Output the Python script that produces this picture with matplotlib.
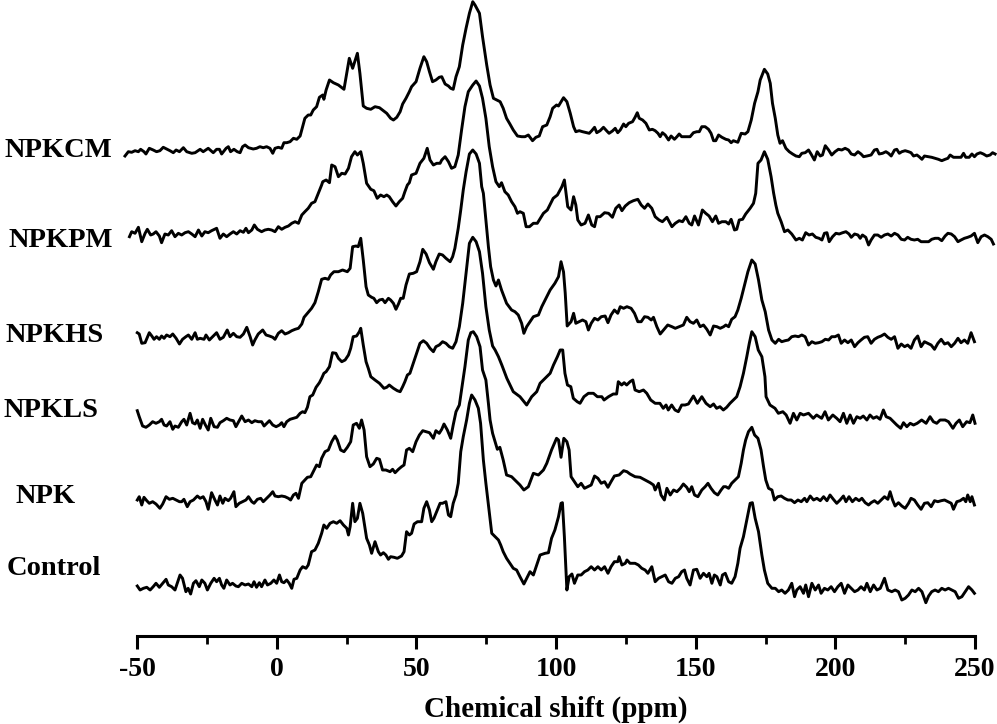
import numpy as np
import matplotlib
matplotlib.use("Agg")
import matplotlib.pyplot as plt

plt.rcParams['font.family'] = ['Liberation Serif', 'DejaVu Serif']
plt.rcParams['font.weight'] = 'bold'

# spectra: chemical shift (ppm) and intensity above each baseline
npkcm_x = [-54.3, -53.1, -51.9, -50.7, -49.5, -48.7, -47.5, -46.8, -45.6, -44.2, -43.0, -41.8, -40.6, -39.4, -38.2, -37.0, -36.0, -34.8, -33.4, -32.2, -30.4, -29.2, -27.4, -26.3, -24.5, -22.7, -21.5, -20.5, -19.7, -18.1, -17.3, -16.5, -15.3, -14.1, -13.1, -12.2, -11.3, -10.1, -8.4, -7.2, -6.0, -4.8, -3.6, -2.4, -1.4, -0.6, 0.6, 1.8, 2.6, 3.6, 4.8, 6.0, 7.2, 8.4, 9.3, 10.1, 11.3, 12.2, 13.1, 14.3, 15.3, 16.5, 16.9, 17.7, 18.9, 20.3, 22.1, 24.1, 26.0, 27.2, 28.9, 29.8, 31.0, 32.2, 33.7, 35.2, 36.8, 38.2, 39.4, 40.8, 41.8, 43.0, 44.2, 45.1, 46.3, 47.5, 48.3, 49.9, 51.3, 52.7, 53.7, 54.7, 55.8, 57.0, 58.2, 59.1, 60.3, 61.5, 62.3, 63.2, 64.2, 65.4, 66.6, 67.8, 69.0, 70.2, 71.0, 72.6, 73.7, 75.2, 76.4, 77.6, 78.8, 80.0, 81.1, 82.3, 83.5, 84.7, 86.2, 87.7, 88.9, 90.1, 91.6, 92.8, 94.0, 95.2, 96.7, 97.9, 98.8, 100.2,
           100.9, 102.7, 103.9, 105.1, 106.3, 107.1, 108.3, 109.5, 111.0, 111.9, 112.8, 113.8, 114.6, 115.8, 117.0, 118.2, 119.0, 120.2, 121.2, 122.1, 123.0, 124.2, 125.0, 126.0, 127.4, 128.3, 129.1, 129.8, 131.0, 132.2, 133.4, 134.5, 135.5, 136.5, 137.3, 138.1, 139.1, 140.3, 141.2, 142.4, 143.3, 144.1, 145.0, 146.2, 148.0, 149.2, 150.4, 151.3, 152.2, 153.4, 154.6, 155.5, 156.4, 157.2, 158.2, 159.4, 160.8, 161.8, 162.7, 163.5, 165.1, 166.3, 167.7, 168.7, 169.9, 171.1, 172.3, 173.1, 174.6, 175.8, 176.7, 177.5, 178.5, 179.4, 180.2, 181.1, 182.3, 183.5, 184.7, 185.9, 187.1, 188.0, 189.2, 190.4, 191.3, 192.5, 193.5, 194.6, 195.4, 196.4, 197.6, 198.7, 199.9, 201.1, 202.3, 203.5, 204.7, 205.7, 206.9, 208.1, 209.2, 210.1, 211.3, 212.8, 214.0, 214.9, 215.7, 216.9, 218.1, 219.0, 220.0, 221.2, 222.0, 222.9, 223.8, 225.0, 226.2, 227.1, 228.0, 229.2, 230.0, 231.0, 231.9, 233.4, 234.5, 235.7, 236.9, 238.1, 239.3, 240.3, 241.1, 242.3, 243.5, 245.0, 245.9, 246.7, 247.9, 248.9, 249.8, 250.7, 251.9, 253.0, 254.2, 255.4, 256.3, 257.2]
npkcm_y = [-4.0, 0.3, -0.3, 1.3, 0.3, 2.7, 0.3, -2.0, 3.7, 2.0, 0.3, 1.3, 4.7, 3.0, 1.3, -0.7, 2.0, 0.3, 4.3, 0.3, -1.3, -0.7, 2.7, 0.3, 3.7, -0.7, 2.7, 2.7, -2.0, 3.7, 5.3, 0.3, 2.7, 0.3, -0.7, 5.3, 7.0, 4.3, 3.0, 3.7, 5.3, 4.3, 5.3, 3.7, -1.3, 3.7, 4.7, 3.7, 9.3, 9.3, 10.3, 13.7, 12.7, 16.0, 25.3, 33.7, 37.0, 37.0, 42.0, 45.3, 54.7, 57.0, 52.7, 62.0, 72.0, 69.3, 67.0, 62.7, 93.7, 83.7, 98.7, 78.7, 46.0, 43.7, 42.7, 45.3, 44.3, 41.3, 38.7, 33.7, 32.0, 34.7, 40.3, 48.0, 53.7, 60.3, 65.3, 70.3, 83.7, 95.3, 90.3, 80.3, 70.3, 72.0, 74.7, 75.3, 68.0, 66.0, 63.7, 62.7, 75.3, 85.3, 107.0, 123.7, 138.7, 150.3, 147.0, 138.7, 115.3, 87.0, 67.0, 53.7, 52.0, 50.3, 43.7, 33.7, 28.0, 22.0, 16.0, 15.3, 15.3, 17.0, 11.3, 14.7, 16.0, 25.3, 27.0, 35.3, 43.7, 47.0,
           46.0, 54.3, 50.3, 38.7, 25.3, 20.3, 21.3, 20.3, 19.3, 18.7, 21.3, 24.7, 19.3, 21.3, 24.7, 21.0, 18.7, 21.0, 23.7, 19.3, 22.0, 28.0, 25.3, 28.7, 30.3, 34.7, 39.3, 33.7, 32.0, 28.7, 22.0, 22.7, 21.3, 18.7, 15.3, 19.3, 17.0, 12.0, 16.0, 12.7, 15.3, 18.0, 15.3, 15.3, 15.3, 19.3, 20.3, 20.3, 25.3, 25.3, 22.7, 18.7, 11.3, 11.3, 17.0, 14.7, 12.7, 12.0, 9.3, 11.3, 9.7, 18.7, 18.0, 20.3, 32.0, 48.7, 60.3, 72.0, 82.7, 78.0, 68.7, 48.7, 33.7, 17.0, 8.7, 11.3, 3.7, 0.3, -2.0, -4.0, -4.7, -1.3, -0.7, 2.0, -2.0, -8.0, 0.3, -4.0, -3.0, 6.3, 2.0, -3.0, 0.3, 2.7, 2.0, 3.7, 2.0, -2.0, -3.0, 0.3, -2.0, -4.7, -4.0, -3.0, 2.0, 2.7, -2.0, -1.3, 0.3, -1.3, -4.0, 2.0, 2.7, -1.3, 0.3, 1.3, 0.3, -0.7, -4.0, -3.0, -4.7, -7.3, -4.0, -4.7, -5.3, -6.3, -7.3, -8.7, -7.3, -6.3, -3.0, -5.3, -5.3, -5.3, -1.3, -5.3, -5.3, -2.0, -4.7, -2.0, -0.7, -2.0, -4.0, -3.0, -0.7, -2.0]

npkpm_x = [-52.7, -51.9, -50.7, -49.5, -48.3, -47.1, -46.3, -45.1, -44.2, -43.2, -42.0, -41.2, -40.0, -38.8, -37.6, -36.4, -35.2, -34.0, -32.8, -31.6, -30.4, -29.2, -28.0, -26.8, -25.7, -24.5, -23.3, -21.5, -20.3, -19.1, -17.9, -16.7, -15.5, -14.3, -13.1, -11.9, -11.0, -10.1, -8.9, -8.0, -6.9, -5.4, -4.2, -3.0, -1.8, -0.6, 0.6, 1.8, 3.0, 4.2, 5.4, 6.6, 7.8, 9.0, 10.1, 11.3, 12.5, 13.7, 14.9, 16.1, 16.5, 17.7, 18.9, 19.7, 20.9, 22.1, 23.3, 24.5, 25.7, 26.8, 28.0, 28.9, 30.1, 31.0, 32.2, 33.7, 34.8, 36.0, 37.2, 38.4, 39.4, 40.3, 41.5, 42.7, 43.9, 45.1, 45.9, 46.8, 47.5, 48.3, 49.9, 51.3, 52.7, 53.9, 54.9, 56.1, 57.3, 58.5, 59.1, 60.3, 61.5, 62.6, 63.8, 65.0, 66.2, 67.4, 68.6, 70.2, 71.4, 72.6, 73.7, 74.9, 76.1, 77.3, 78.5, 79.7, 80.5, 81.7, 82.9, 84.1, 85.3, 86.2, 87.1, 88.3, 89.3, 90.5, 91.9, 93.3, 94.3, 95.5, 96.9, 98.1, 99.0, 100.5,
           102.1, 103.0, 104.2, 105.4, 106.3, 107.1, 107.8, 109.0, 110.4, 111.6, 112.8, 113.8, 114.6, 115.8, 117.4, 118.8, 120.2, 121.4, 122.6, 123.6, 124.8, 126.2, 127.7, 129.3, 130.5, 131.7, 132.9, 134.3, 135.5, 136.9, 138.1, 139.7, 141.5, 142.7, 144.1, 145.3, 146.5, 147.7, 148.6, 149.6, 151.0, 152.4, 153.6, 154.8, 156.0, 157.2, 158.2, 159.4, 160.8, 161.8, 162.7, 163.9, 164.7, 165.6, 166.8, 167.9, 169.5, 170.7, 171.5, 172.3, 173.4, 174.6, 175.8, 177.0, 177.9, 178.7, 179.4, 180.6, 181.8, 183.0, 184.4, 185.9, 187.1, 188.2, 189.4, 190.6, 191.8, 193.0, 194.2, 195.2, 196.1, 197.0, 197.8, 199.0, 200.2, 201.4, 202.6, 203.8, 204.9, 205.7, 206.9, 208.1, 208.9, 209.7, 210.9, 211.9, 212.8, 214.0, 215.2, 216.4, 217.6, 218.8, 220.0, 221.2, 222.4, 223.6, 224.8, 225.9, 227.1, 228.3, 229.5, 230.7, 232.2, 233.4, 234.5, 235.7, 236.9, 238.1, 239.3, 240.3, 241.5, 242.7, 243.9, 245.0, 246.2, 247.4, 248.6, 249.8, 251.0, 252.2, 253.4, 254.6, 255.8, 256.6]
npkpm_y = [-3.7, 1.3, -0.3, 5.7, -8.7, -0.3, 3.7, -2.0, -1.0, 1.3, -3.0, -9.7, -1.0, -2.0, 2.3, -3.7, -0.3, -2.0, 0.3, 1.3, -1.0, -3.7, 3.0, -3.0, 1.3, 0.3, 2.3, 4.7, -5.3, -1.0, -3.7, -1.0, 1.3, -1.0, 2.3, 0.7, 4.7, 0.3, 3.0, 8.0, 3.7, 1.3, 3.0, 3.7, 3.0, 1.3, 6.3, 3.7, 5.7, 7.0, 9.7, 11.3, 9.7, 18.0, 21.3, 24.7, 29.7, 31.3, 39.7, 48.0, 51.3, 53.0, 50.3, 68.0, 66.3, 56.3, 59.7, 59.0, 64.7, 76.3, 81.3, 78.0, 81.3, 69.7, 49.7, 43.7, 42.3, 34.7, 38.0, 36.3, 38.0, 36.3, 31.3, 27.0, 31.3, 34.7, 41.3, 48.0, 50.3, 58.0, 59.7, 69.7, 74.7, 84.7, 73.0, 68.0, 69.7, 69.7, 73.0, 76.3, 71.3, 64.7, 66.3, 78.0, 103.0, 126.3, 141.3, 148.0, 152.0, 147.0, 134.7, 114.7, 86.3, 66.3, 51.3, 46.3, 50.3, 41.3, 38.0, 31.3, 26.3, 19.7, 21.3, 19.7, 6.3, 6.3, 9.7, 9.7, 14.3, 19.7, 23.0, 29.7, 34.7, 38.0,
           46.3, 53.0, 26.3, 23.0, 36.3, 28.0, 13.0, 8.0, 9.7, 18.0, 8.0, 6.3, 16.3, 16.3, 20.3, 19.7, 15.7, 24.7, 28.0, 22.3, 27.0, 30.3, 32.3, 33.7, 28.0, 24.7, 29.0, 24.7, 16.3, 13.0, 11.3, 15.7, 6.3, 9.7, 12.3, 11.3, 16.3, 9.7, 8.0, 17.0, 8.0, 23.0, 19.7, 17.0, 11.3, 17.0, 9.7, 11.3, 11.3, 9.0, 13.7, 3.0, 3.7, 13.0, 13.7, 19.0, 24.7, 29.7, 39.7, 69.7, 73.0, 81.3, 73.7, 56.3, 40.0, 28.0, 19.7, 11.3, 1.3, 3.0, -1.0, -7.0, -5.3, -7.0, 0.3, -2.0, -1.0, -4.3, -5.3, -7.0, -0.3, 0.3, -8.7, -3.7, -0.3, -1.0, 0.3, 1.3, -1.0, -4.3, -1.0, -2.0, -5.3, -2.0, -4.3, -12.0, -7.0, -2.0, -2.0, -4.3, -2.0, -1.0, -3.0, -0.3, -2.0, -6.3, -7.0, -4.3, -6.3, -7.0, -6.3, -8.7, -8.7, -8.7, -6.3, -5.3, -5.3, -7.7, -3.0, -0.3, -1.0, -3.7, -8.7, -7.0, -5.3, -4.3, -3.0, -0.3, -9.7, -3.7, -2.0, -3.7, -6.3, -11.0]

npkhs_x = [-49.9, -49.2, -48.3, -47.1, -45.6, -44.7, -43.9, -43.0, -42.0, -41.2, -40.3, -39.4, -38.2, -37.2, -36.0, -34.8, -33.7, -32.5, -31.6, -30.4, -29.2, -28.4, -27.4, -26.0, -25.3, -24.1, -22.9, -21.5, -20.3, -19.1, -17.7, -16.7, -15.5, -14.3, -13.1, -11.9, -10.7, -9.5, -8.6, -7.8, -6.6, -5.0, -3.8, -2.6, -1.4, -0.6, 0.6, 1.8, 3.0, 4.2, 5.4, 6.6, 7.8, 9.0, 9.8, 11.0, 12.5, 13.7, 14.9, 16.1, 17.3, 18.5, 19.3, 20.5, 22.1, 23.6, 25.3, 26.3, 27.2, 28.4, 29.2, 30.1, 31.0, 32.0, 32.8, 34.0, 34.8, 35.8, 36.8, 37.9, 38.8, 40.0, 40.8, 41.8, 42.7, 43.6, 44.4, 45.3, 46.3, 47.5, 48.9, 50.1, 51.3, 52.3, 53.5, 54.7, 56.1, 57.0, 58.2, 59.4, 60.6, 62.1, 63.0, 63.8, 65.0, 65.9, 66.8, 67.8, 69.0, 70.2, 71.4, 72.6, 73.4, 74.0, 75.0, 75.8, 76.6, 77.6, 78.5, 79.4, 80.5, 82.3, 84.1, 85.3, 86.5, 87.7, 88.5, 89.5, 90.7, 91.9, 93.7, 94.9, 96.1, 97.9, 99.6,
           100.9, 101.8, 102.7, 103.3, 104.0, 105.4, 106.3, 107.1, 108.3, 109.5, 110.7, 111.6, 112.6, 113.8, 115.0, 116.2, 117.6, 118.6, 119.7, 120.9, 122.1, 123.0, 124.2, 125.4, 126.9, 128.1, 129.3, 130.5, 131.7, 132.9, 134.1, 134.9, 136.1, 137.3, 138.5, 140.0, 141.5, 142.7, 144.1, 145.6, 146.8, 148.0, 149.2, 150.4, 151.6, 152.8, 154.0, 155.2, 156.4, 157.6, 158.8, 160.0, 160.8, 161.8, 162.9, 164.1, 165.1, 166.3, 167.5, 168.7, 170.1, 171.3, 172.5, 173.7, 174.9, 176.1, 177.3, 178.5, 179.7, 180.8, 182.0, 183.2, 184.4, 185.6, 186.8, 188.0, 189.2, 190.4, 191.6, 192.8, 194.0, 195.2, 196.4, 197.6, 198.7, 199.9, 201.1, 202.1, 203.3, 204.5, 205.7, 206.9, 208.1, 209.2, 210.4, 211.6, 212.8, 214.0, 215.2, 216.4, 217.6, 218.8, 220.0, 221.2, 222.4, 223.6, 224.8, 225.9, 227.1, 228.3, 229.5, 230.7, 231.9, 233.1, 234.3, 235.5, 236.7, 237.9, 239.1, 240.3, 241.5, 242.7, 243.9, 245.0, 246.2, 247.4, 248.6, 249.8]
npkhs_y = [5.3, 4.0, -5.3, -4.7, 5.3, 2.0, -1.3, 1.3, -1.3, 2.0, -0.3, 3.0, 1.3, 4.0, -0.3, -6.0, -1.3, 1.3, 3.0, -1.3, 5.3, -1.3, -0.3, -1.3, 3.0, -2.0, 1.3, 5.3, -1.3, 0.7, 8.0, 1.3, 4.7, 1.3, 0.7, 4.0, 10.7, 1.3, -7.0, -2.0, 4.0, 8.0, 3.0, 2.0, 0.7, -1.3, 4.7, 7.3, 4.0, 5.3, 7.3, 8.7, 9.7, 14.0, 20.7, 24.7, 29.7, 35.3, 46.3, 58.7, 59.7, 58.7, 63.0, 66.3, 66.3, 68.0, 66.3, 69.7, 91.3, 92.0, 91.3, 99.7, 78.0, 51.3, 43.0, 40.7, 39.7, 35.3, 38.0, 38.7, 35.3, 39.7, 38.0, 34.7, 28.7, 34.0, 39.7, 39.7, 53.0, 64.0, 64.7, 66.3, 76.3, 88.7, 84.0, 75.3, 68.7, 76.3, 84.0, 83.0, 79.7, 76.3, 81.3, 89.7, 109.7, 128.0, 148.0, 166.0, 184.0, 188.0, 184.0, 174.7, 151.3, 144.7, 114.7, 91.3, 71.3, 58.0, 52.0, 58.0, 48.0, 34.7, 28.0, 26.3, 23.0, 14.7, 4.7, 11.3, 16.3, 21.3, 23.0, 31.3, 38.0, 48.0, 54.7,
           61.3, 76.3, 66.0, 45.0, 12.0, 16.3, 24.7, 14.7, 16.3, 18.0, 16.3, 8.0, 14.7, 19.7, 18.0, 21.3, 22.0, 15.3, 23.0, 28.0, 24.7, 31.3, 29.7, 31.3, 29.7, 24.7, 16.3, 16.3, 21.3, 20.7, 18.0, 20.7, 11.3, 4.0, 8.0, 13.0, 11.3, 9.7, 11.3, 13.0, 20.7, 16.3, 14.7, 18.0, 11.3, 13.0, 8.7, 3.0, 12.0, 11.3, 9.7, 11.3, 13.0, 11.3, 18.7, 21.3, 28.0, 39.7, 53.0, 66.3, 78.0, 74.0, 58.0, 38.0, 26.3, 8.0, -2.0, -5.3, -1.3, -3.7, -2.7, -2.0, 1.3, 2.0, 1.3, 3.0, 1.3, -7.0, -3.7, -5.3, -4.7, -3.7, -1.3, -2.0, 1.3, 1.3, 3.0, -5.3, -2.0, -4.7, -2.0, -8.7, -4.7, -2.0, 0.7, 1.3, -5.3, -1.3, 0.7, 2.0, 4.0, 0.7, -1.3, 1.3, -10.3, -6.0, -8.7, -7.0, -10.3, -2.0, 2.0, -8.7, -3.7, -5.3, -7.0, -11.3, -5.3, -1.3, -6.0, -4.7, -8.7, -5.3, -0.3, -4.7, -2.0, -5.3, 5.3, -3.7]

npkls_x = [-49.9, -49.2, -48.0, -46.8, -45.6, -44.4, -43.2, -42.0, -41.2, -40.3, -39.4, -38.2, -37.2, -36.4, -35.2, -34.0, -33.2, -32.2, -31.0, -30.1, -29.2, -28.4, -27.4, -26.5, -25.5, -24.5, -23.6, -22.4, -21.2, -20.3, -19.1, -17.9, -16.7, -15.5, -14.6, -13.4, -12.5, -11.3, -10.1, -8.9, -7.8, -6.6, -5.4, -4.5, -3.3, -2.6, -1.4, -0.2, 1.0, 1.8, 2.6, 3.6, 4.8, 6.0, 7.2, 8.4, 9.3, 10.1, 11.0, 11.9, 12.9, 14.1, 15.3, 16.1, 16.9, 17.7, 18.9, 20.0, 21.2, 22.1, 23.3, 24.5, 25.7, 26.5, 27.4, 28.6, 29.6, 30.1, 31.0, 32.0, 32.8, 33.7, 35.2, 36.8, 38.4, 39.4, 40.3, 41.8, 43.2, 44.2, 45.1, 45.9, 46.8, 47.7, 48.9, 50.1, 51.3, 52.5, 53.7, 54.9, 56.1, 57.0, 58.2, 59.4, 60.6, 61.8, 63.0, 64.2, 65.4, 66.6, 67.8, 69.0, 70.2, 71.4, 72.6, 73.7, 74.9, 76.1, 77.3, 78.2, 79.4, 80.6, 82.4, 84.7, 87.1, 89.5, 91.3, 93.1, 94.3, 96.1, 97.9, 99.1, 100.5, 101.5, 102.4, 103.2, 104.1, 105.3, 106.2, 107.6, 108.6, 110.0, 111.6, 113.4, 114.8, 116.4, 117.2, 118.8, 120.5, 121.7, 122.3, 123.5, 124.4, 125.3, 126.5, 127.5, 128.3, 129.8, 131.3, 132.5, 133.9, 135.5, 137.2, 138.4, 139.4, 140.2, 141.4, 142.6, 143.8, 145.0, 146.2, 147.4, 149.2, 150.6, 152.2, 153.7, 155.2, 156.4, 157.5, 158.7, 159.9, 161.1, 162.3, 163.5, 164.7, 165.9, 167.1, 168.3, 169.2, 170.1, 171.3, 172.4, 173.7, 174.8, 175.2, 176.6, 178.4, 179.6, 181.2, 182.4, 183.8, 185.0, 186.2, 187.4, 188.6, 190.4, 192.1, 193.3, 195.1, 196.3, 197.5, 199.1, 200.5, 201.7, 202.9, 204.1, 205.3, 206.5, 207.7, 208.9, 210.0, 211.3, 212.4, 213.6, 214.8, 216.0, 217.2, 218.2, 219.6, 220.8, 222.0, 223.4, 224.4, 225.6, 226.8, 228.0, 229.3, 230.9, 232.5, 233.9, 235.1, 236.3, 237.5, 239.3, 240.5, 242.1, 243.2, 244.4, 245.6, 247.0, 248.2, 249.2, 250.0]
npkls_y = [11.3, 5.3, -4.0, -5.3, -3.0, 0.3, -1.3, 0.3, 2.7, -3.0, -4.0, 0.3, -7.3, -4.0, -5.3, 0.3, 2.7, -3.0, 8.7, -0.7, -2.0, 2.0, -6.3, 2.7, -3.0, -8.0, 3.7, -4.7, -5.3, -0.7, 1.3, 3.7, 2.0, 1.3, -4.7, 1.3, 6.0, 0.3, 2.0, -0.7, 1.3, 0.3, 0.3, -4.0, -0.7, 1.3, -3.0, -4.7, -3.0, -0.7, -4.7, 0.3, 2.7, 3.7, 4.7, 8.7, 10.3, 9.3, 14.7, 25.3, 27.0, 34.7, 39.3, 43.7, 48.7, 50.3, 55.3, 69.3, 68.7, 63.7, 60.3, 62.0, 67.0, 73.7, 85.3, 86.0, 90.3, 93.7, 77.0, 60.3, 53.7, 45.3, 42.0, 38.7, 33.7, 34.7, 37.0, 33.7, 31.3, 30.3, 35.3, 40.3, 47.0, 48.7, 58.7, 68.7, 78.7, 81.3, 78.7, 73.7, 70.3, 75.3, 77.0, 80.3, 78.7, 75.3, 73.7, 80.3, 95.3, 118.7, 148.7, 178.7, 184.7, 180.3, 170.3, 148.7, 115.3, 92.0, 76.0, 72.0, 65.3, 57.0, 43.7, 30.3, 25.3, 17.0, 25.3, 30.3, 38.7, 43.7, 48.7, 57.0, 65.3, 72.0, 72.0, 48.7, 37.0, 35.3, 23.7, 20.3, 18.7, 25.3, 28.7, 28.7, 25.3, 25.3, 22.0, 25.3, 28.0, 28.0, 40.3, 37.0, 39.3, 37.0, 40.3, 42.0, 32.0, 30.3, 32.0, 28.7, 22.0, 18.7, 18.7, 13.7, 17.0, 12.0, 17.0, 12.0, 10.3, 17.0, 17.0, 18.0, 26.0, 18.7, 25.3, 18.7, 15.3, 18.0, 13.7, 15.3, 12.0, 14.7, 18.7, 22.0, 25.3, 35.3, 48.7, 65.3, 78.7, 90.3, 85.3, 72.0, 65.3, 45.3, 25.3, 17.0, 13.7, 8.7, 10.3, 7.0, -1.3, 8.7, 2.0, 8.7, 7.0, 8.7, 3.7, 7.0, 3.7, 10.3, 2.0, 7.0, 3.7, 0.3, 8.7, -1.3, 7.0, -1.3, 5.3, 3.7, 6.0, 2.0, 7.0, 3.7, 5.3, 2.7, 12.0, 5.3, 3.7, 0.3, -3.0, -6.3, -0.7, -4.7, -1.3, -3.0, -1.3, 2.0, -1.3, 5.3, 0.3, -1.3, 2.0, 2.0, 0.3, -6.3, -1.3, 2.0, -4.7, 0.3, -0.7, 7.0, -1.3]

npk_x = [-49.9, -49.2, -48.3, -47.5, -46.5, -45.6, -44.4, -43.2, -41.8, -40.8, -39.6, -38.4, -37.2, -36.0, -34.8, -34.0, -33.2, -32.0, -31.0, -29.8, -28.4, -27.4, -26.3, -25.3, -24.5, -23.3, -22.1, -21.2, -20.3, -19.3, -18.5, -17.3, -16.5, -15.3, -14.6, -13.4, -12.2, -11.0, -10.1, -8.9, -8.1, -6.9, -5.7, -4.8, -3.6, -2.4, -1.4, -0.6, 0.6, 1.8, 3.0, 4.2, 5.0, 6.0, 6.9, 7.8, 9.0, 10.1, 11.0, 12.2, 13.1, 14.3, 15.3, 16.1, 17.3, 18.5, 19.7, 20.9, 21.7, 22.9, 24.1, 25.3, 26.5, 27.4, 28.6, 29.6, 30.4, 31.3, 32.2, 33.4, 34.6, 35.8, 36.8, 37.9, 39.1, 40.6, 41.5, 42.4, 43.6, 44.7, 45.6, 46.5, 47.5, 48.7, 49.9, 51.1, 52.3, 53.5, 54.7, 56.1, 57.0, 58.2, 59.1, 59.9, 61.1, 62.3, 63.2, 64.2, 65.4, 67.4, 68.6, 69.5, 70.4, 71.6, 72.8, 73.7, 74.9, 75.8, 76.4, 77.3, 78.2, 79.0, 79.9, 81.1, 82.3, 84.1, 85.9, 87.1, 88.5, 90.1, 91.9, 93.7, 95.5, 96.7, 98.4, 100.2,
         100.9, 101.8, 102.8, 103.9, 104.7, 105.4, 106.6, 107.8, 109.0, 110.2, 111.4, 112.6, 113.8, 115.0, 116.2, 117.4, 118.6, 119.7, 120.9, 122.6, 124.2, 125.4, 126.5, 128.3, 130.1, 131.9, 133.7, 134.9, 135.5, 136.7, 137.6, 138.8, 139.7, 140.9, 142.1, 143.3, 144.5, 145.6, 146.8, 147.7, 148.6, 149.6, 150.8, 152.2, 153.4, 154.4, 155.5, 156.7, 157.9, 159.1, 160.0, 160.8, 161.8, 162.9, 164.1, 165.3, 166.3, 167.1, 167.9, 168.9, 170.1, 171.1, 172.3, 173.4, 174.3, 175.1, 176.1, 177.3, 178.2, 179.4, 180.6, 181.8, 183.0, 184.2, 185.4, 186.6, 187.8, 189.0, 189.8, 191.0, 192.2, 193.4, 194.6, 195.8, 197.0, 198.1, 199.3, 200.5, 201.7, 202.9, 203.8, 204.9, 206.1, 207.3, 208.5, 209.5, 210.7, 211.9, 212.8, 214.0, 215.2, 216.4, 217.6, 218.8, 219.6, 220.5, 221.4, 222.6, 223.8, 225.0, 226.2, 227.1, 228.3, 229.5, 230.7, 231.9, 233.1, 234.3, 235.5, 236.7, 237.9, 239.1, 240.3, 241.5, 242.3, 243.5, 244.7, 245.9, 246.7, 247.4, 248.3, 248.9, 249.8]
npk_y = [2.0, 5.3, -3.0, 4.7, 1.3, -1.3, 0.3, -2.0, -6.3, -2.0, 5.3, 2.7, 3.7, 2.0, 0.3, 0.3, 2.7, -4.7, 0.3, 2.0, 6.0, 3.7, 5.3, 0.3, -7.3, 9.3, 2.0, -3.0, 6.0, -1.3, 3.7, 1.3, 3.7, 10.3, -4.7, -1.3, 0.3, 2.0, 5.3, 0.3, -1.3, 2.7, 3.7, 0.3, 3.7, 7.0, 10.3, 6.0, 5.3, 6.0, 5.3, 3.7, 2.0, 7.0, 8.7, 3.7, 18.7, 22.0, 24.7, 25.3, 30.3, 37.0, 35.3, 43.7, 50.3, 52.0, 60.3, 66.0, 62.0, 52.0, 50.3, 54.7, 60.3, 77.0, 78.7, 73.7, 82.0, 72.0, 45.3, 35.3, 38.0, 43.7, 42.7, 32.0, 32.0, 30.3, 32.7, 29.3, 32.7, 35.3, 37.0, 52.0, 53.7, 50.3, 60.3, 67.0, 71.3, 70.3, 69.3, 63.7, 71.3, 68.7, 72.7, 78.0, 72.0, 63.7, 77.0, 90.3, 97.0, 135.3, 162.0, 169.3, 170.3, 165.3, 155.3, 132.0, 122.0, 98.7, 82.0, 68.7, 60.3, 52.7, 54.7, 42.0, 27.0, 25.3, 20.3, 17.0, 12.0, 15.3, 28.7, 27.0, 32.0, 38.7, 52.0, 63.7,
         62.0, 44.7, 63.7, 60.3, 52.0, 25.3, 20.3, 15.3, 18.7, 13.7, 15.3, 17.0, 26.0, 23.7, 18.7, 20.3, 14.7, 20.3, 26.0, 27.0, 31.3, 30.3, 28.0, 25.3, 24.7, 22.0, 19.3, 17.0, 12.0, 18.7, 7.0, 2.0, 13.7, 7.0, 12.0, 10.3, 13.7, 18.0, 14.7, 10.3, 15.3, 7.0, 5.3, 12.0, 15.3, 18.7, 13.7, 9.3, 7.0, 12.0, 15.3, 15.3, 13.7, 18.7, 22.0, 25.3, 38.7, 52.0, 62.0, 70.3, 74.7, 67.0, 63.7, 52.0, 35.3, 22.0, 13.7, 12.0, 2.0, 5.3, 6.0, 3.7, 2.0, 2.0, -0.7, 2.0, 0.3, 3.7, 0.3, 6.0, 2.0, 3.7, 1.3, 5.3, 1.3, 7.0, 2.7, -1.3, 2.0, 6.0, 0.3, 5.3, 0.3, 3.7, 1.3, 3.7, -0.7, -3.0, -0.7, 1.3, -1.3, 2.0, 5.3, 2.7, 10.3, 2.0, -4.0, -0.7, -4.0, -6.3, -1.3, 3.7, 2.0, -3.0, -7.3, -1.3, -0.7, -4.7, 1.3, 0.3, 1.3, 2.0, 0.3, -1.3, -7.3, 0.3, 1.3, 3.7, 0.3, 7.0, 0.3, 5.3, -3.0]

control_x = [-49.9, -48.9, -47.7, -46.5, -45.3, -44.2, -43.2, -42.0, -40.8, -39.6, -38.8, -37.6, -36.4, -35.6, -34.6, -33.7, -32.5, -31.7, -30.8, -29.8, -28.9, -27.7, -26.8, -25.7, -24.8, -23.6, -22.4, -21.5, -20.5, -19.7, -18.9, -17.9, -16.7, -15.8, -14.6, -13.7, -12.5, -11.3, -10.1, -8.9, -8.1, -7.2, -6.2, -5.4, -4.2, -3.3, -2.1, -1.0, 0.0, 1.0, 1.8, 2.6, 3.6, 4.5, 5.4, 6.2, 7.2, 8.4, 9.3, 10.5, 11.3, 12.5, 13.7, 14.9, 16.1, 16.9, 17.9, 19.1, 20.3, 21.5, 22.7, 23.9, 25.1, 25.7, 26.3, 27.2, 28.0, 28.9, 29.8, 30.8, 32.2, 33.2, 34.0, 35.2, 36.4, 37.2, 38.2, 39.1, 40.0, 40.8, 42.0, 43.2, 44.7, 45.6, 46.5, 47.5, 48.3, 49.2, 50.4, 51.9, 52.7, 53.7, 54.7, 55.5, 56.3, 57.5, 58.5, 59.4, 60.6, 61.5, 62.3, 63.2, 64.2, 65.0, 65.9, 66.8, 68.0, 69.0, 69.8, 71.0, 72.2, 73.0, 74.0, 74.9, 75.8, 77.0, 78.2, 79.4, 80.2, 81.1, 82.3, 83.5, 84.7, 85.9, 87.1, 88.5, 89.5, 90.7, 91.9, 93.1, 94.3, 96.1, 97.3, 98.4, 99.6,
             100.9, 101.8, 102.3, 103.0, 103.9, 104.7, 105.7, 106.6, 107.8, 109.0, 110.2, 111.4, 112.6, 113.8, 115.0, 116.2, 117.4, 118.6, 119.7, 120.9, 122.1, 122.6, 123.6, 124.8, 125.4, 126.5, 128.3, 129.5, 130.7, 131.9, 132.9, 134.3, 135.5, 136.7, 137.9, 139.1, 140.3, 141.5, 142.7, 143.9, 145.0, 146.0, 146.8, 148.0, 149.2, 150.4, 151.6, 152.8, 154.0, 154.8, 155.8, 156.7, 157.6, 158.8, 159.6, 160.6, 161.8, 162.9, 164.1, 165.1, 165.9, 167.1, 168.3, 169.5, 170.3, 171.3, 172.5, 173.7, 174.6, 175.8, 177.3, 178.5, 179.7, 180.8, 182.0, 183.2, 184.4, 185.4, 186.2, 187.4, 188.6, 189.4, 190.4, 191.6, 192.8, 194.0, 194.9, 196.1, 197.3, 198.5, 199.7, 200.9, 202.1, 203.3, 204.5, 205.7, 206.9, 208.1, 209.2, 210.4, 211.3, 212.5, 213.7, 214.9, 216.1, 217.6, 218.8, 220.2, 221.4, 222.6, 223.8, 225.0, 226.2, 227.4, 228.6, 229.8, 231.0, 232.4, 233.4, 234.5, 235.7, 236.9, 238.1, 239.3, 240.5, 241.7, 242.9, 244.1, 245.3, 246.5, 247.7, 248.9, 249.8]
control_y = [1.0, -3.0, -1.3, -0.3, -3.0, 0.3, 3.7, -0.3, 3.7, 7.7, 2.0, 0.3, -3.0, 3.7, 12.0, 8.7, -4.7, -1.3, -7.0, 3.7, 6.3, 0.3, 7.0, 3.7, -3.0, 3.7, 8.7, 5.3, 8.7, 2.0, -1.3, 7.0, 2.0, 3.7, 1.0, 0.3, 3.7, 2.0, 3.0, 0.3, 5.3, -0.3, 4.3, 0.3, 7.0, 2.0, 3.7, 7.0, 3.7, 12.0, 5.3, 4.3, 7.0, 3.7, -1.3, 7.7, 8.7, 17.0, 20.3, 18.7, 22.0, 35.3, 37.0, 43.7, 53.7, 62.0, 58.7, 63.7, 65.3, 63.7, 66.3, 62.0, 58.7, 52.0, 60.3, 83.7, 65.3, 68.7, 83.7, 73.7, 48.7, 42.0, 33.7, 45.3, 35.3, 32.0, 34.3, 32.0, 27.7, 30.3, 29.7, 28.7, 31.0, 35.3, 55.3, 52.0, 53.7, 63.0, 65.3, 65.3, 78.7, 85.3, 77.0, 65.3, 68.7, 77.0, 83.7, 83.7, 85.3, 72.0, 70.3, 83.7, 92.0, 103.7, 135.3, 150.3, 167.0, 183.7, 192.0, 187.0, 178.7, 163.7, 127.0, 103.7, 82.0, 53.7, 50.3, 47.0, 42.0, 35.3, 28.7, 23.7, 18.7, 17.0, 10.3, 3.0, 8.7, 15.3, 12.0, 22.0, 32.0, 33.7, 34.3, 48.7, 57.0,
             70.3, 83.7, 84.3, 50.3, -3.0, 10.3, 13.0, 3.7, 12.0, 12.0, 15.3, 17.0, 20.3, 17.0, 20.3, 17.0, 20.3, 13.7, 20.3, 25.3, 25.3, 30.3, 22.0, 23.7, 27.0, 23.7, 23.7, 22.0, 18.7, 17.0, 13.7, 20.3, 5.3, 8.7, 10.3, 12.0, 5.3, 3.7, 8.7, 10.3, 15.3, 17.0, 8.7, 2.0, 17.0, 17.7, 8.7, 13.7, 10.3, 13.7, 3.7, 12.0, 10.3, 2.0, 12.0, 13.7, 5.3, 3.7, 10.3, 23.7, 38.7, 50.3, 67.0, 83.7, 84.3, 68.7, 55.3, 32.0, 17.0, 3.7, -1.3, -1.3, -4.7, -3.0, -6.3, -3.0, 3.7, -9.7, -3.0, 0.3, -6.3, 2.0, -9.7, 3.7, -3.0, 2.0, -6.3, -1.3, -3.0, 0.3, -4.7, 0.3, 3.7, -6.3, 2.0, -1.3, -4.7, -3.0, 0.3, -3.0, 3.7, -4.7, 2.0, -3.0, -1.3, 8.7, -3.0, -4.7, -3.0, -4.7, -13.0, -11.3, -8.0, -3.0, -4.7, -1.3, -4.7, -15.7, -9.0, -4.7, -3.0, -4.7, -1.3, -3.0, -1.3, -3.0, -4.7, -11.3, -9.7, -4.7, 0.3, -3.0, -6.3]

names = ['NPKCM', 'NPKPM', 'NPKHS', 'NPKLS', 'NPK', 'Control']
shifts = [npkcm_x, npkpm_x, npkhs_x, npkls_x, npk_x, control_x]
intens = [npkcm_y, npkpm_y, npkhs_y, npkls_y, npk_y, control_y]
tick_values = [-50, 0, 50, 100, 150, 200, 250]
minor_values = [-25, 25, 75, 125, 175, 225]

# layout: vertical stacking offsets and label placement (pixels)
offsets = [484, 403, 298, 214, 134, 49]
label_pos = [(4, 157), (8, 247), (5, 342), (3, 417), (15, 503), (7, 575)]

W, H = 997, 724
fig = plt.figure(figsize=(W / 100, H / 100), dpi=100)
ax = fig.add_axes([137 / W, 88 / H, (975 - 137) / W, 636 / H])
ax.set_xlim(-50, 250)
ax.set_ylim(0, 636)

for xs, ys, off in zip(shifts, intens, offsets):
    ax.plot(xs, np.array(ys) + off, color='black', lw=2.1, clip_on=False,
            solid_joinstyle='round')

for name, (px, py) in zip(names, label_pos):
    fig.text(px / W, 1 - py / H, name, fontsize=20.5, fontweight='bold',
             ha='left', va='baseline')

for s in ['left', 'right', 'top']:
    ax.spines[s].set_visible(False)
ax.spines['bottom'].set_linewidth(2.2)
ax.set_yticks([])
ax.set_xticks(tick_values)
ax.set_xticklabels([str(v) for v in tick_values], fontweight='bold')
ax.set_xticks(minor_values, minor=True)
ax.tick_params(axis='x', which='major', length=9.5, width=2.2, pad=5.5,
               labelsize=20)
ax.tick_params(axis='x', which='minor', length=5.5, width=2.0)

ax.set_xlabel('Chemical shift (ppm)', fontsize=21, fontweight='bold', va='baseline')
ax.xaxis.set_label_coords(0.5, -0.127)

fig.savefig('out.png', dpi=100)
